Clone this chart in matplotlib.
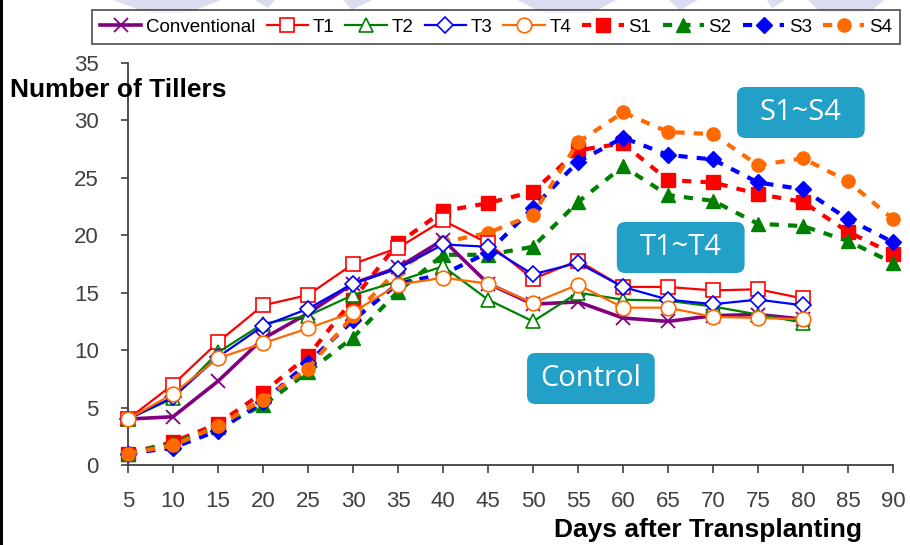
import matplotlib
matplotlib.use('Agg')
import matplotlib.pyplot as plt
from matplotlib.patches import FancyBboxPatch, Polygon, Rectangle

# days after transplanting
days_t = [5, 10, 15, 20, 25, 30, 35, 40, 45, 50, 55, 60, 65, 70, 75, 80]
days_s = [5, 10, 15, 20, 25, 30, 35, 40, 45, 50, 55, 60, 65, 70, 75, 80, 85, 90]

conventional = [4.0, 4.2, 7.3, 11.0, 13.2, 15.8, 17.2, 19.6, 15.8, 14.0, 14.2, 12.8, 12.5, 13.0, 13.1, 12.7]
t1 = [4.0, 7.0, 10.7, 13.9, 14.8, 17.5, 18.9, 21.3, 19.3, 16.2, 17.8, 15.5, 15.5, 15.2, 15.3, 14.5]
t2 = [4.0, 5.8, 9.8, 12.3, 13.0, 14.8, 16.0, 17.3, 14.4, 12.5, 15.0, 14.4, 14.3, 13.8, 13.1, 12.4]
t3 = [4.0, 5.9, 9.4, 12.1, 13.6, 15.8, 17.1, 19.2, 19.0, 16.6, 17.6, 15.5, 14.4, 14.0, 14.4, 13.9]
t4 = [4.0, 6.2, 9.3, 10.6, 11.9, 13.3, 15.7, 16.3, 15.8, 14.1, 15.7, 13.7, 13.7, 12.9, 12.8, 12.7]

s1 = [1.0, 2.0, 3.6, 6.3, 9.5, 14.4, 19.3, 22.1, 22.8, 23.8, 27.4, 28.0, 24.8, 24.6, 23.6, 22.9, 20.3, 18.4]
s2 = [1.0, 1.9, 3.3, 5.2, 8.1, 11.1, 15.1, 18.3, 18.3, 19.0, 22.9, 26.0, 23.5, 23.0, 21.0, 20.8, 19.5, 17.6]
s3 = [1.0, 1.5, 3.0, 5.5, 8.9, 12.6, 15.8, 16.6, 18.5, 22.4, 26.4, 28.5, 27.0, 26.6, 24.6, 24.0, 21.4, 19.4]
s4 = [1.0, 1.7, 3.4, 5.7, 8.4, 13.0, 17.0, 19.4, 20.2, 21.8, 28.1, 30.7, 29.0, 28.8, 26.1, 26.7, 24.7, 21.4]

x_ticks = list(range(5, 95, 5))
y_ticks = list(range(0, 40, 5))

purple = '#800080'
red = '#ff0000'
green = '#008000'
blue = '#0000ff'
orange = '#ff6a00'
box_color = '#22a0c8'

plt.rcParams['font.family'] = ['Liberation Sans', 'DejaVu Sans']

fig = plt.figure(figsize=(9.1, 5.45), dpi=100)
ax = fig.add_axes([128 / 910, 80 / 545, 765 / 910, 402 / 545])

# faint background decoration at the top of the slide
bg = '#dcdcf0'
for pts in [
    [(113, 0), (221, 0), (185, 14), (150, 14)],
    [(255, 0), (275, 0), (268, 8)],
    [(343, 0), (372, 0), (352, 10)],
    [(517, 0), (616, 0), (590, 14), (545, 14)],
    [(669, 0), (698, 0), (680, 10)],
    [(767, 0), (785, 0), (772, 8)],
    [(808, 0), (884, 0), (870, 12), (820, 12)],
]:
    fig.patches.append(Polygon([(px / 910, 1 - py / 545) for px, py in pts],
                               closed=True, transform=fig.transFigure,
                               facecolor=bg, edgecolor='none', zorder=-5))
fig.patches.append(Rectangle((0, 0), 3 / 910, 1, transform=fig.transFigure,
                             facecolor='black', edgecolor='none', zorder=5))

ax.plot(days_t, conventional, color=purple, lw=2.6, marker='x', ms=10, mew=1.3,
        label='Conventional', clip_on=False, zorder=4)
ax.plot(days_t, t1, color=red, lw=1.6, marker='s', ms=10.5, mfc='white', mew=1.2,
        label='T1', clip_on=False, zorder=4)
ax.plot(days_t, t2, color=green, lw=1.6, marker='^', ms=10.5, mfc='white', mew=1.2,
        label='T2', clip_on=False, zorder=4)
ax.plot(days_t, t3, color=blue, lw=1.6, marker='D', ms=8, mfc='white', mew=1.2,
        label='T3', clip_on=False, zorder=4)
ax.plot(days_t, t4, color=orange, lw=1.6, marker='o', ms=10.5, mfc='white', mew=1.2,
        label='T4', clip_on=False, zorder=4)

dash = (0, (2.2, 2.2))
ax.plot(days_s, s1, color=red, lw=3, ls=dash, marker='s', ms=10,
        label='S1', clip_on=False, zorder=3)
ax.plot(days_s, s2, color=green, lw=3, ls=dash, marker='^', ms=10.5,
        label='S2', clip_on=False, zorder=3)
ax.plot(days_s, s3, color=blue, lw=3, ls=dash, marker='D', ms=8.5,
        label='S3', clip_on=False, zorder=3)
ax.plot(days_s, s4, color=orange, lw=3, ls=dash, marker='o', ms=9.5,
        label='S4', clip_on=False, zorder=3)

ax.set_xlim(5, 90)
ax.set_ylim(0, 35)
ax.set_xticks(x_ticks)
ax.set_yticks(y_ticks)
for side in ['top', 'right']:
    ax.spines[side].set_visible(False)
for side in ['left', 'bottom']:
    ax.spines[side].set_color('#404040')
    ax.spines[side].set_linewidth(1.3)
ax.tick_params(axis='x', direction='out', length=6, width=1.2, color='#404040',
               labelsize=16, labelcolor='#404040', pad=13)
ax.tick_params(axis='y', direction='out', length=5, width=1.2, color='#404040',
               labelsize=16, labelcolor='#404040', pad=16)

fig.text(10 / 910, 1 - 90 / 545, 'Number of Tillers', fontsize=19,
         fontweight='bold', ha='left', va='center', zorder=6)
fig.text(862 / 910, 1 - 530 / 545, 'Days after Transplanting', fontsize=19,
         fontweight='bold', ha='right', va='center')

# rounded label boxes (axes fractions)
boxes = [
    ('S1~S4', 0.796, 0.8134),
    ('T1~T4', 0.639, 0.4776),
    ('Control', 0.5216, 0.1517),
]
for txt, bx, by in boxes:
    w, h = 0.167, 0.127
    patch = FancyBboxPatch((bx, by), w, h, transform=ax.transAxes,
                           boxstyle='round,pad=0,rounding_size=0.011',
                           mutation_aspect=765 / 402, facecolor=box_color,
                           edgecolor='none', zorder=6, clip_on=False)
    ax.add_patch(patch)
    ax.text(bx + w / 2, by + h / 2, txt, transform=ax.transAxes, color='white',
            fontsize=21, family=['Open Sans', 'DejaVu Sans'], ha='center',
            va='center', zorder=7)

leg = ax.legend(loc='center', bbox_to_anchor=(496 / 910, 1 - 27 / 545),
                bbox_transform=fig.transFigure, ncol=9, fontsize=13.5,
                frameon=True, fancybox=False, handlelength=2.2,
                handletextpad=0.25, columnspacing=0.6, borderpad=0.45,
                borderaxespad=0)
leg.get_frame().set_edgecolor('#303030')
leg.get_frame().set_linewidth(1.3)
leg.set_zorder(10)

fig.savefig('out.png', dpi=100)
